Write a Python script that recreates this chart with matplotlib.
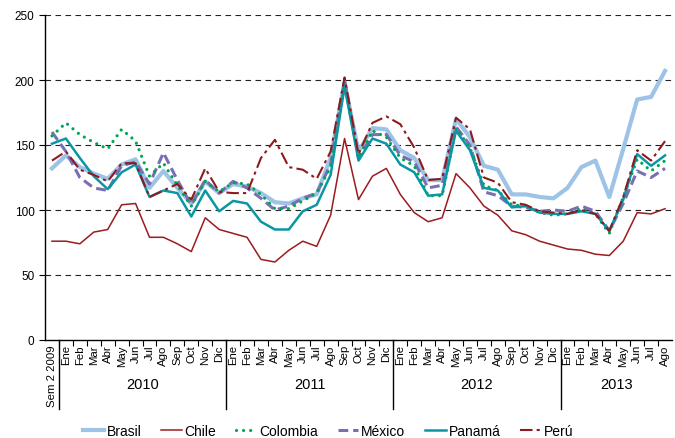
import matplotlib
matplotlib.use("Agg")
import matplotlib.pyplot as plt
import matplotlib.transforms as mtransforms

plt.rcParams['font.family'] = ['Liberation Sans', 'DejaVu Sans']

month_labels = ["Sem 2 2009"] + \
    ["Ene", "Feb", "Mar", "Abr", "May", "Jun", "Jul", "Ago", "Sep", "Oct", "Nov", "Dic"] * 3 + \
    ["Ene", "Feb", "Mar", "Abr", "May", "Jun", "Jul", "Ago"]
years = ["2010", "2011", "2012", "2013"]

brasil = [132, 142, 133, 128, 124, 135, 139, 117, 130, 117, 105, 122, 113,
          120, 118, 113, 106, 105, 109, 112, 140, 198, 145, 163, 162,
          146, 140, 123, 123, 170, 156, 134, 131, 112, 112, 110, 109,
          117, 133, 138, 110, 147, 185, 187, 207]
chile = [76, 76, 74, 83, 85, 104, 105, 79, 79, 74, 68, 94, 85,
         82, 79, 62, 60, 69, 76, 72, 96, 155, 108, 126, 132,
         112, 98, 91, 94, 128, 117, 103, 96, 84, 81, 76, 73,
         70, 69, 66, 65, 76, 98, 97, 101]
colombia = [157, 167, 158, 152, 147, 162, 153, 126, 136, 119, 103, 122, 114,
            121, 120, 112, 101, 101, 107, 113, 133, 197, 140, 161, 156,
            140, 134, 111, 111, 163, 148, 119, 115, 104, 103, 98, 96,
            97, 101, 97, 82, 110, 139, 130, 138]
mexico = [160, 145, 125, 117, 115, 134, 137, 120, 144, 123, 104, 123, 113,
          122, 117, 109, 100, 103, 109, 113, 135, 200, 140, 158, 158,
          142, 137, 117, 119, 164, 150, 114, 111, 103, 102, 99, 100,
          99, 103, 99, 84, 105, 130, 125, 132]
panama = [151, 155, 140, 126, 116, 129, 135, 110, 115, 113, 95, 115, 99,
          107, 105, 91, 85, 85, 99, 104, 127, 195, 138, 155, 151,
          135, 129, 111, 112, 161, 146, 117, 115, 102, 103, 98, 97,
          97, 99, 97, 84, 108, 143, 134, 142]
peru = [138, 145, 131, 127, 122, 136, 136, 110, 115, 120, 108, 132, 114,
        113, 113, 140, 154, 133, 131, 124, 145, 202, 143, 167, 172,
        166, 148, 123, 124, 171, 162, 125, 121, 106, 104, 99, 98,
        97, 100, 97, 84, 110, 146, 138, 153]

x = list(range(len(month_labels)))

fig = plt.figure(figsize=(6.75, 4.39), dpi=100)
ax = fig.add_axes([45/675, 1-341/439, (672-45)/675, (341-16)/439])

ax.plot(x, brasil, color='#9DC3E6', lw=3.0, solid_joinstyle='round', label='Brasil', zorder=3)
ax.plot(x, chile, color='#9B1B1F', lw=1.1, label='Chile', zorder=4)
ax.plot(x, colombia, color='#00A651', lw=2.3, linestyle=(0, (0.01, 2.2)),
        dash_capstyle='round', label='Colombia', zorder=5)
ax.plot(x, mexico, color='#7A6FB5', lw=2.2, linestyle=(0, (3.2, 1.6)), label='México', zorder=4)
ax.plot(x, panama, color='#0A97A3', lw=1.8, label='Panamá', zorder=6)
ax.plot(x, peru, color='#8E1A1E', lw=1.5, linestyle=(0, (6, 2, 1.5, 2)), label='Perú', zorder=7)

ax.set_xlim(-0.5, len(x) - 0.5)
ax.set_ylim(0, 250)
ax.set_yticks(range(0, 251, 50))
for v in range(50, 251, 50):
    ax.axhline(v, color='#222222', lw=0.8, linestyle=(0, (5, 4)), zorder=1)

for s in ['top', 'right']:
    ax.spines[s].set_visible(False)
ax.spines['left'].set_linewidth(1.0)
ax.spines['bottom'].set_linewidth(1.0)

ax.set_xticks(x)
ax.set_xticklabels(month_labels, rotation=90, fontsize=8.2, va='top')
ax.tick_params(axis='x', which='major', length=0, pad=3)
ax.set_xticks([i + 0.5 for i in range(len(x) - 1)], minor=True)
ax.tick_params(axis='x', which='minor', length=4, width=0.8)
ax.tick_params(axis='y', labelsize=8.5, length=4, width=0.8)

trans = mtransforms.blended_transform_factory(ax.transData, ax.transAxes)
bounds = [0.5, 12.5, 24.5, 36.5]
for b in bounds:
    ax.plot([b, b], [0, -0.212], transform=trans, color='black', lw=1.0, clip_on=False)
year_centers = [6.5, 18.5, 30.5, 40.5]
for yc, yl in zip(year_centers, years):
    ax.text(yc, -0.135, yl, transform=trans, ha='center', va='center', fontsize=10.5)

handles, labels = ax.get_legend_handles_labels()
fig.legend(handles, labels, loc='center', bbox_to_anchor=(328/675, 1-432/439), ncol=6,
           frameon=False, fontsize=10, handlelength=1.5, handletextpad=0.2, columnspacing=1.4)

fig.savefig('out.png', dpi=100)
